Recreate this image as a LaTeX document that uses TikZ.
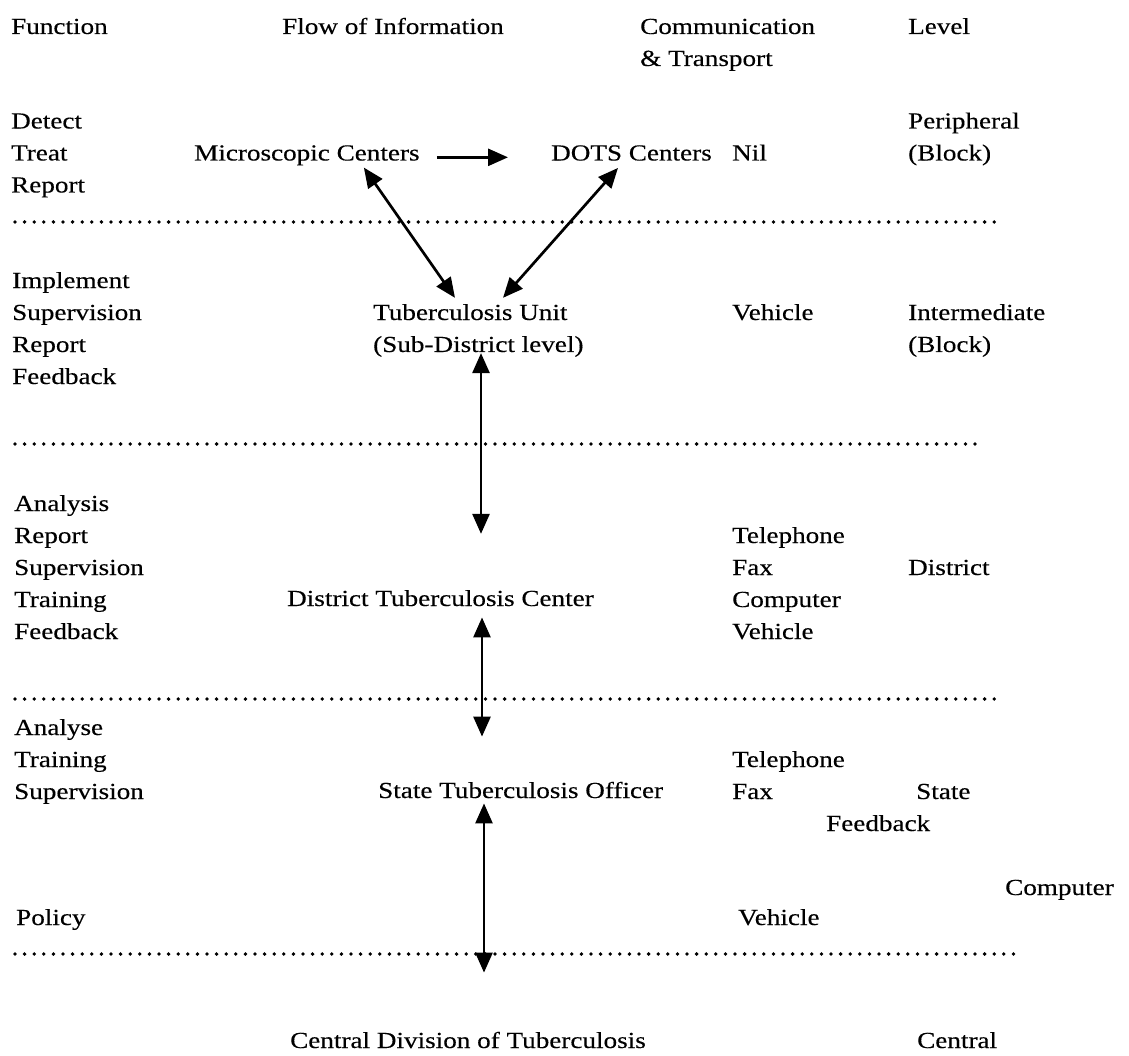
\documentclass[tikz,border=0pt]{standalone}
\usepackage{fontspec}
\setmainfont{Liberation Serif}[FakeStretch=1.18,FakeBold=0.3]
\usetikzlibrary{arrows.meta}
\begin{document}
\begin{tikzpicture}[x=1pt,y=-1pt,
  txt/.style={anchor=base west, inner sep=0pt, align=left,
              font=\fontsize{23}{32}\selectfont},
  sep/.style={line width=3.8pt, line cap=round, dash pattern=on 0pt off 9.6pt},
  tip/.tip={Triangle[length=20pt,width=17pt]},
  link/.style={line width=2.7pt, -tip},
  dlink/.style={line width=2.7pt, tip-tip}]
\useasboundingbox[fill=white] (0,0) rectangle (1129,1056);

% column headings (multi-line nodes sit on the baseline of their last line)
\node[txt] (hfun)  at (11,34)  {Function};
\node[txt] (hflow) at (282,34) {Flow of Information};
\node[txt] (hcom)  at (640,66) {Communication\\\& Transport};
\node[txt] (hlev)  at (908,34) {Level};

% peripheral level
\node[txt] (f1)   at (11,192.5)  {Detect\\Treat\\Report};
\node[txt] (mc)   at (194,160.5) {Microscopic Centers};
\node[txt] (dots) at (551,160.5) {DOTS Centers};
\node[txt] (c1)   at (732,160.5) {Nil};
\node[txt] (l1)   at (908,160.5) {Peripheral\\(Block)};
\draw[sep] (15,222) -- (1000,222);

% intermediate level
\node[txt] (f2) at (12,384)  {Implement\\Supervision\\Report\\Feedback};
\node[txt] (tu) at (373,352) {Tuberculosis Unit\\(Sub-District level)};
\node[txt] (c2) at (732,320) {Vehicle};
\node[txt] (l2) at (908,352) {Intermediate\\(Block)};
\draw[sep] (15,444) -- (975,444);

% district level
\node[txt] (f3)  at (14,639)  {Analysis\\Report\\Supervision\\Training\\Feedback};
\node[txt] (dtc) at (287,606) {District Tuberculosis Center};
\node[txt] (c3)  at (732,639) {Telephone\\Fax\\Computer\\Vehicle};
\node[txt] (l3)  at (908,575) {District};
\draw[sep] (15,699) -- (1000,699);

% state level
\node[txt] (f4)   at (14,799)  {Analyse\\Training\\Supervision};
\node[txt] (sto)  at (378,798) {State Tuberculosis Officer};
\node[txt] (c4)   at (732,799) {Telephone\\Fax};
\node[txt] (l4)   at (916,799) {State};
\node[txt] (fb)   at (826,831) {Feedback};
\node[txt] (comp) at (1005,895) {Computer};
\node[txt] (f5)   at (16,925)  {Policy};
\node[txt] (c5)   at (738,925) {Vehicle};
\draw[sep] (15,954) -- (1020,954);

% central level
\node[txt] (cdt) at (290,1048) {Central Division of Tuberculosis};
\node[txt] (l5)  at (917,1048) {Central};

% flow of information
\coordinate (ax1) at (481,0);
\coordinate (ax2) at (482,0);
\coordinate (ax3) at (484,0);
\draw[link] ([xshift=17pt,yshift=-2pt]mc.east) -- ([xshift=-43pt,yshift=-2pt]mc.east -| dots.west);
\draw[dlink] ([xshift=57pt,yshift=-2pt]mc.south) -- ([xshift=82pt,yshift=6pt]tu.north west);
\draw[dlink] ([xshift=67pt,yshift=-7pt]dots.south west) -- ([xshift=130pt,yshift=6pt]tu.north west);
\draw[dlink, shorten <=-4pt, shorten >=56pt] (ax1 |- tu.south) -- (ax1 |- dtc.north);
\draw[dlink, shorten <=11pt, shorten >=45pt] (ax2 |- dtc.south) -- (ax2 |- sto.north);
\draw[dlink, shorten <=5pt, shorten >=59pt] (ax3 |- sto.south) -- (ax3 |- cdt.north);
\end{tikzpicture}
\end{document}
